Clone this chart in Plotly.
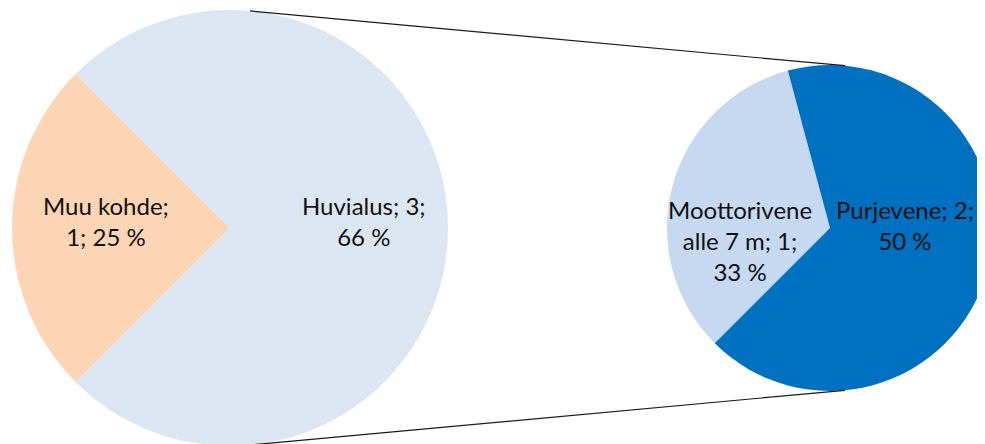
import math
import plotly.graph_objects as go

# ---------------- data ----------------
main_labels = ["Muu kohde", "Huvialus"]
main_values = [1, 3]
main_text = ["Muu kohde;<br>1; 25 %", "Huvialus; 3;<br>66 %"]

sub_labels = ["Moottorivene alle 7 m", "Purjevene"]
sub_values = [1, 2]
sub_text = ["Moottorivene<br>alle 7 m; 1;<br>33 %", "Purjevene; 2;<br>50 %"]

main_colors = ["#FCD5B5", "#DCE6F2"]
sub_colors = ["#C6D9F1", "#0070C0"]

# ---------------- layout geometry (figure px, y down) ----------------
W, H = 985, 444
c1x, c1y, R1 = 222, 220, 218   # big pie centre / radius
c2x, c2y, R2 = 822, 220, 163   # small pie centre / radius

def px_to_paper(x, y):
    return x / W, 1 - y / H

def domain(cx, cy, r):
    return dict(x=[max(0, (cx - r) / W), min(1, (cx + r) / W)],
                y=[max(0, (H - cy - r) / H), min(1, (H - cy + r) / H)])

fig = go.Figure()
fig.add_trace(go.Pie(
    labels=main_labels, values=main_values, sort=False,
    direction="counterclockwise", rotation=-135,
    marker=dict(colors=main_colors, line=dict(width=0)),
    textinfo="none", hoverinfo="label+value",
    domain=domain(c1x, c1y, R1), showlegend=False,
))
fig.add_trace(go.Pie(
    labels=sub_labels, values=sub_values, sort=False,
    direction="counterclockwise", rotation=-135,
    marker=dict(colors=sub_colors, line=dict(width=0)),
    textinfo="none", hoverinfo="label+value",
    domain=domain(c2x, c2y, R2), showlegend=False,
))

# connector lines: external tangents of the two circles
dx, dy = c2x - c1x, c2y - c1y
d = math.hypot(dx, dy)
phi = math.atan2(dy, dx)
alpha = math.acos((R1 - R2) / d)
shapes = []
for s in (-1, 1):
    th = phi + s * alpha
    x0, y0 = px_to_paper(c1x + R1 * math.cos(th), c1y + R1 * math.sin(th))
    x1, y1 = px_to_paper(c2x + R2 * math.cos(th), c2y + R2 * math.sin(th))
    shapes.append(dict(type="line", xref="paper", yref="paper",
                       x0=x0, y0=y0, x1=x1, y1=y1,
                       line=dict(color="#1a1a1a", width=1.2), layer="above"))

# label placement (offset as fraction of radius)
label_offsets_main = [(-0.57, -0.03), (0.615, -0.03)]
label_offsets_sub = [(-0.55, 0.075), (0.46, -0.02)]
annotations = []
for txt, (fx, fy) in zip(main_text, label_offsets_main):
    x, y = px_to_paper(c1x + fx * R1, c1y + fy * R1)
    annotations.append(dict(x=x, y=y, xref="paper", yref="paper", text=txt,
                            showarrow=False, xanchor="center", yanchor="middle"))
for txt, (fx, fy) in zip(sub_text, label_offsets_sub):
    x, y = px_to_paper(c2x + fx * R2, c2y + fy * R2)
    annotations.append(dict(x=x, y=y, xref="paper", yref="paper", text=txt,
                            showarrow=False, xanchor="center", yanchor="middle"))

fig.update_layout(
    width=W, height=H,
    margin=dict(l=0, r=0, t=0, b=0),
    paper_bgcolor="white", plot_bgcolor="white",
    font=dict(family="Lato, 'Open Sans', sans-serif", size=24, color="#111111"),
    shapes=shapes, annotations=annotations,
)

fig.write_html("out.html")
